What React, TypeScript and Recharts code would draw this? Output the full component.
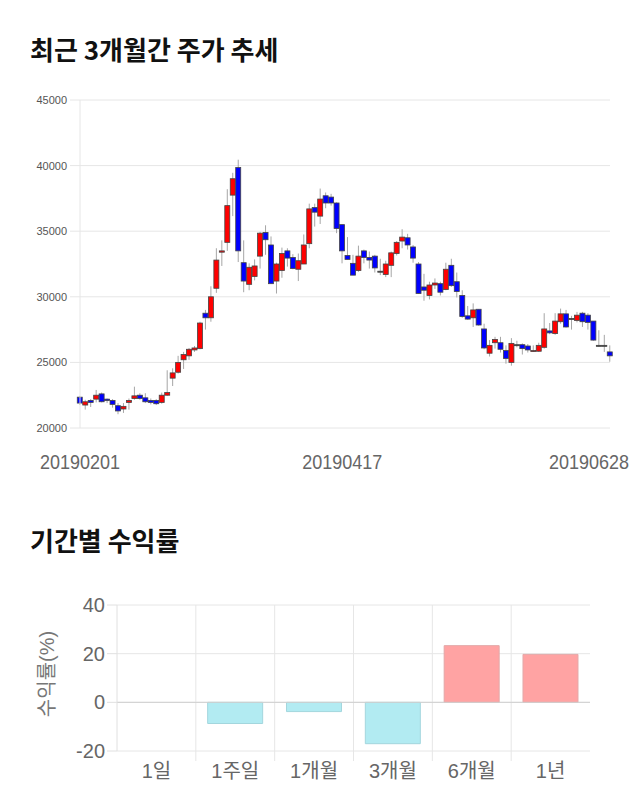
import { ComposedChart, BarChart, Bar, Cell, XAxis, YAxis, CartesianGrid, ReferenceLine } from "recharts";

const dates = [
  "20190201", "20190207", "20190208", "20190211", "20190212", "20190213", "20190214", "20190215",
  "20190218", "20190219", "20190220", "20190221", "20190222", "20190225", "20190226", "20190227",
  "20190228", "20190304", "20190305", "20190306", "20190307", "20190308", "20190311", "20190313",
  "20190314", "20190315", "20190318", "20190319", "20190320", "20190321", "20190322", "20190325",
  "20190326", "20190327", "20190328", "20190329", "20190401", "20190402", "20190403", "20190404",
  "20190405", "20190408", "20190409", "20190410", "20190411", "20190412", "20190415", "20190416",
  "20190417", "20190418", "20190419", "20190422", "20190423", "20190424", "20190425", "20190426",
  "20190429", "20190430", "20190502", "20190503", "20190507", "20190508", "20190509", "20190510",
  "20190513", "20190514", "20190515", "20190516", "20190517", "20190520", "20190521", "20190522",
  "20190523", "20190524", "20190527", "20190528", "20190529", "20190530", "20190531", "20190603",
  "20190604", "20190605", "20190607", "20190610", "20190611", "20190612", "20190613", "20190614",
  "20190617", "20190618", "20190619", "20190620", "20190621", "20190624", "20190625", "20190626",
  "20190627", "20190628",
];

const opens = [
  22350, 21750, 22100, 22200, 22600, 22200, 22100, 21700, 21450, 21950, 22250, 22500, 22300, 22100,
  22100, 21950, 22500, 23800, 24250, 25200, 25500, 25950, 26050, 28750, 28400, 30650, 33400, 34150,
  37750, 39850, 32600, 30950, 31550, 33100, 34900, 33950, 31200, 32000, 33500, 33000, 32100, 32500,
  34050, 36800, 36150, 37700, 37600, 37150, 35500, 33150, 32550, 32000, 33500, 33000, 33100, 31950,
  31700, 32400, 33300, 34250, 34500, 33800, 32500, 30750, 30100, 30900, 31000, 30550, 32400, 31150,
  30100, 28550, 28400, 29050, 27550, 25700, 26500, 26500, 25900, 25000, 26350, 26350, 26250, 25850,
  25850, 26150, 27400, 27200, 28100, 28700, 28350, 28200, 28750, 28600, 28150, 26300, 26300, 25800,
];
const highs = [
  22450, 22150, 22200, 22900, 22700, 22250, 22200, 21900, 21900, 22250, 23150, 22650, 22650, 22250,
  22200, 22700, 24400, 24550, 25500, 25800, 26100, 26250, 28100, 29000, 30800, 33700, 34300, 38200,
  39450, 40450, 34300, 32550, 32850, 34950, 35450, 34600, 32600, 33750, 33700, 33250, 33300, 34750,
  37100, 37100, 38250, 37950, 37850, 37200, 35500, 34550, 33200, 33900, 33600, 33450, 33200, 32900,
  32750, 33450, 34250, 35150, 34800, 33950, 32650, 31750, 31150, 31400, 31150, 32600, 32900, 31850,
  30500, 29300, 29500, 29050, 27950, 26700, 26950, 26950, 26300, 26850, 26650, 26450, 26400, 26300,
  26500, 28750, 28000, 28750, 29100, 29000, 28550, 28850, 28850, 28750, 28150, 27450, 27100, 26300,
];
const lows = [
  21750, 21400, 21600, 21950, 21950, 21900, 21550, 21050, 21150, 21400, 22150, 22150, 21900, 21800,
  21750, 21850, 22450, 23200, 24150, 24500, 25200, 25800, 26000, 27500, 28100, 30300, 32350, 33500,
  36150, 32650, 30350, 30500, 31250, 32150, 33200, 31000, 30250, 31450, 32300, 32100, 31200, 32500,
  33700, 35350, 35550, 36750, 36950, 34850, 32550, 32850, 31650, 31900, 32550, 32150, 31850, 31650,
  31500, 31500, 33150, 33700, 33600, 32600, 30250, 29700, 29800, 30600, 30100, 30500, 30750, 29950,
  28400, 28250, 27700, 27800, 26000, 25450, 26050, 25750, 24900, 24750, 26150, 25600, 25750, 25800,
  25800, 26050, 27150, 27100, 27950, 27650, 27500, 28050, 27700, 27500, 26650, 26200, 25800, 25050,
];
const closes = [
  21900, 22000, 21950, 22500, 22000, 22100, 21800, 21300, 21650, 22100, 22450, 22250, 22000, 21950,
  21850, 22500, 22700, 24200, 25000, 25600, 26000, 26100, 28000, 28400, 30000, 32800, 33500, 36950,
  39000, 33500, 31200, 32250, 32350, 34850, 34350, 31000, 32500, 33300, 32950, 32150, 32750, 33950,
  36700, 36450, 37450, 37150, 37150, 35200, 33500, 32850, 31650, 33100, 33000, 32800, 32200, 31950,
  32500, 33350, 34150, 34550, 33950, 32950, 30250, 30500, 30900, 31050, 30350, 32100, 30850, 30400,
  28500, 28300, 29000, 27850, 26100, 26300, 26750, 26000, 25300, 26450, 26350, 26050, 25950, 25900,
  26300, 27550, 27250, 28150, 28700, 27700, 28350, 28600, 28100, 28050, 26700, 26300, 26300, 25500,
];

const priceTicks = [20000, 25000, 30000, 35000, 40000, 45000];
const dateTickIdx = [0, 48, 97];

const periods = ["1일", "1주일", "1개월", "3개월", "6개월", "1년"];
const returns = [0, -8.7, -3.8, -17.0, 23.3, 19.7];
const returnTicks = [-20, 0, 20, 40];

const candles = dates.map((date, i) => ({
  idx: i,
  date,
  open: opens[i],
  high: highs[i],
  low: lows[i],
  close: closes[i],
  range: [lows[i], highs[i]],
}));

const returnRows = periods.map((period, i) => ({ period, value: returns[i] }));

const latin = "'Liberation Sans', 'Noto Sans CJK KR', sans-serif";

const Candle = (props: any) => {
  const { x, width, payload } = props;
  let { y, height } = props;
  if (height < 0) {
    y = y + height;
    height = -height;
  }
  const { open, close, high, low } = payload;
  const span = high - low || 1;
  const py = (v: number) => y + ((high - v) / span) * height;
  const cx = x + width / 2;
  const top = py(Math.max(open, close));
  const bot = py(Math.min(open, close));
  const fill = close > open ? "#ff0000" : close < open ? "#0000ff" : "#333333";
  return (
    <g>
      <line x1={cx} x2={cx} y1={y} y2={y + height} stroke="#a6a6a6" strokeWidth={1} />
      <rect x={x} y={top} width={width} height={Math.max(bot - top, 1)} fill={fill} stroke="#444" strokeWidth={0.8} />
    </g>
  );
};

// date labels are squeezed horizontally, like the condensed face in the original
const DateTick = (props: any) => {
  const { x, y, payload } = props;
  const last = payload.value === dates.length - 1;
  return (
    <g transform={`translate(${last ? x + 19 : x}, ${y + 33}) scale(0.857, 1)`}>
      <text x={0} y={0} textAnchor={last ? "end" : "middle"} fontSize={21} fill="#666" fontFamily={latin}>
        {dates[payload.value]}
      </text>
    </g>
  );
};

const PeriodTick = (props: any) => {
  const { x, y, payload, index } = props;
  const band = (props.width || 473) / periods.length;
  return (
    <g>
      {index > 0 && <line x1={x - band / 2} x2={x - band / 2} y1={y - 8} y2={y + 2} stroke="#e6e6e6" />}
      <text x={x} y={y + 19} textAnchor="middle" fontSize={20} fill="#666" fontFamily={latin}>
        {payload.value}
      </text>
    </g>
  );
};

const ReturnLabel = (props: any) => {
  const vb = props.viewBox || { x: 0, y: 605, width: 117, height: 146 };
  const lx = vb.x + 47;
  const ly = vb.y + vb.height / 2 - 4;
  return (
    <text
      x={lx}
      y={ly}
      transform={`rotate(-90, ${lx}, ${ly})`}
      textAnchor="middle"
      dominantBaseline="central"
      fontSize={20}
      fill="#777"
      fontFamily={latin}
    >
      수익률(%)
    </text>
  );
};

const titleStyle = {
  position: "absolute" as const,
  left: 30,
  fontFamily: "'Noto Sans CJK KR', sans-serif",
  fontWeight: 700,
  fontSize: 26,
  lineHeight: "26px",
  color: "#111",
  margin: 0,
};

export default function App() {
  return (
    <div style={{ position: "absolute", left: 0, top: 0, width: 640, height: 810, background: "#fff" }}>
      <div style={{ ...titleStyle, top: 36 }}>최근 3개월간 주가 추세</div>

      <div style={{ position: "absolute", left: 0, top: 80 }}>
        <ComposedChart width={640} height={400} data={candles} margin={{ top: 20, right: 30, bottom: 12, left: 0 }}>
          <CartesianGrid vertical={false} stroke="#e6e6e6" />
          <XAxis
            dataKey="idx"
            type="number"
            domain={[0, dates.length - 1]}
            ticks={dateTickIdx}
            interval={0}
            height={40}
            axisLine={false}
            tickLine={false}
            tick={<DateTick />}
          />
          <YAxis
            domain={[20000, 45000]}
            ticks={priceTicks}
            width={80}
            axisLine={{ stroke: "#e6e6e6" }}
            tickLine={{ stroke: "#e6e6e6" }}
            tickSize={10}
            tickMargin={3}
            tick={{ fontSize: 11, fill: "#555", fontFamily: latin }}
          />
          <Bar dataKey="range" barSize={5} shape={<Candle />} isAnimationActive={false} />
        </ComposedChart>
      </div>

      <div style={{ ...titleStyle, top: 527 }}>기간별 수익률</div>

      <div style={{ position: "absolute", left: 0, top: 580 }}>
        <BarChart width={640} height={210} data={returnRows} margin={{ top: 25, right: 50, bottom: 9, left: 0 }} barCategoryGap="15%">
          <CartesianGrid
            stroke="#e6e6e6"
            verticalCoordinatesGenerator={({ offset }: any) =>
              periods.slice(1).map((_, i) => offset.left + ((i + 1) * offset.width) / periods.length)
            }
          />
          <XAxis dataKey="period" height={30} axisLine={false} tickLine={false} interval={0} tick={<PeriodTick />} />
          <YAxis
            domain={[-20, 40]}
            ticks={returnTicks}
            width={117}
            axisLine={{ stroke: "#e0e0e0" }}
            tickLine={{ stroke: "#e0e0e0" }}
            tickSize={10}
            tickMargin={2}
            tick={{ fontSize: 20, fill: "#666", fontFamily: latin }}
            label={<ReturnLabel />}
          />
          <ReferenceLine y={0} stroke="#cfcfcf" />
          <Bar dataKey="value" isAnimationActive={false}>
            {returnRows.map((r) => (
              <Cell
                key={r.period}
                fill={r.value >= 0 ? "#ffa3a3" : "#b2ebf2"}
                stroke={r.value >= 0 ? "#e3a8a8" : "#a3d6dd"}
              />
            ))}
          </Bar>
        </BarChart>
      </div>
    </div>
  );
}
